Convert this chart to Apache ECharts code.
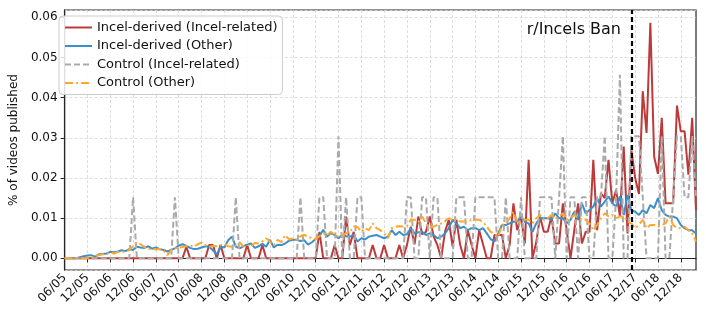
<!DOCTYPE html>
<html>
<head>
<meta charset="utf-8">
<script src="https://cdn.jsdelivr.net/npm/echarts@6/dist/echarts.min.js"></script>
<style>
html,body{margin:0;padding:0;background:#fff;}
#chart{width:706px;height:314px;}
</style>
</head>
<body>
<div id="chart"></div>
<script>
// Monthly series, Jun 2005 .. Apr 2019
const startYear = 2005, startMonth = 6;
const banLabel = '11/17';
const banText = 'r/Incels Ban';
const seriesNames = ['Incel-derived (Incel-related)', 'Incel-derived (Other)', 'Control (Incel-related)', 'Control (Other)'];
const yTicks = [0, 0.01, 0.02, 0.03, 0.04, 0.05, 0.06];

const derivedIncel = [
  0,0,0,0,0,0,0,0,0,0,0,0,
  0,0,0,0,0,0,0,0,0,0,0,0,
  0,0,0,0,0,0,0,0,0.0029,0,0,0,
  0,0,0.0033,0.0033,0,0.0033,0,0,0,0,0,0,
  0.0033,0,0,0,0.0033,0,0,0,0,0,0,0,
  0,0,0,0,0,0,0,0.0066,0,0,0,0.0033,
  0,0,0.0104,0.0033,0.0066,0,0,0,0,0.0033,0,0,
  0.0033,0,0,0,0.0033,0,0.0033,0.0079,0.0035,0.0104,0.0060,0.0066,
  0.0104,0.0055,0.0033,0,0.0066,0.0096,0.0030,0.0096,0.0033,0,0.0070,0.0033,
  0,0.0070,0.0035,0,0,0.0058,0.0058,0.0058,0,0.0033,0.0137,0.0070,
  0.0104,0.0037,0.0245,0,0.0040,0.0104,0.0066,0.0066,0.0104,0.0037,0.0037,0.0137,
  0.0070,0,0.0070,0.0137,0.0037,0.0066,0.0066,0.0245,0.0070,0.0162,0.0150,0.0245,
  0.0137,0.0170,0.0104,0.0278,0.0062,0.0270,0.0200,0.0160,0.0416,0.0312,0.0586,0.0253,
  0.0210,0.0350,0.0137,0.0137,0.0137,0.0380,0.0316,0.0316,0.0208,0.0350,0.0120
];
const derivedOther = [
  0,0,0,0,0.0003,0.0005,0.0007,0.0008,0.0004,0.0010,0.0011,0.0012,
  0.0016,0.0015,0.0017,0.0020,0.0018,0.0023,0.0021,0.0029,0.0027,0.0026,0.0030,0.0024,
  0.0027,0.0023,0.0021,0.0017,0.0021,0.0025,0.0032,0.0035,0.0031,0.0026,0.0023,0.0024,
  0.0027,0.0030,0.0029,0.0020,0.0010,0.0029,0.0027,0.0045,0.0054,0.0029,0.0025,0.0030,
  0.0034,0.0037,0.0026,0.0030,0.0036,0.0029,0.0046,0.0027,0.0034,0.0033,0.0037,0.0044,
  0.0046,0.0046,0.0043,0.0045,0.0034,0.0040,0.0048,0.0055,0.0071,0.0054,0.0063,0.0058,
  0.0050,0.0058,0.0055,0.0054,0.0058,0.0042,0.0050,0.0047,0.0054,0.0056,0.0058,0.0054,
  0.0050,0.0054,0.0070,0.0058,0.0066,0.0058,0.0060,0.0075,0.0062,0.0065,0.0066,0.0058,
  0.0062,0.0058,0.0050,0.0054,0.0062,0.0075,0.0096,0.0087,0.0075,0.0079,0.0070,0.0075,
  0.0075,0.0070,0.0075,0.0062,0.0048,0.0042,0.0062,0.0083,0.0083,0.0087,0.0091,0.0092,
  0.0104,0.0091,0.0087,0.0066,0.0087,0.0100,0.0100,0.0100,0.0096,0.0112,0.0100,0.0100,
  0.0087,0.0096,0.0116,0.0096,0.0137,0.0112,0.0120,0.0129,0.0150,0.0129,0.0141,0.0154,
  0.0137,0.0129,0.0154,0.0108,0.0158,0.0120,0.0116,0.0108,0.0120,0.0112,0.0133,0.0125,
  0.0150,0.0120,0.0108,0.0104,0.0104,0.0100,0.0083,0.0075,0.0070,0.0070,0.0062
];
const controlIncel = [
  0,0,0,0,0,0,0,0,0,0,0,0,
  0,0,0,0,0,0,0.0152,0,0,0,0,0,
  0,0,0,0,0,0.0152,0,0,0,0,0,0,
  0,0,0,0,0,0,0,0,0,0.0152,0,0,
  0,0,0,0,0,0,0,0,0,0,0,0,
  0,0,0.0152,0,0,0,0,0.0152,0.0152,0,0,0,
  0.0304,0,0.0152,0,0,0.0152,0.0152,0,0,0,0,0,
  0,0,0,0,0,0,0.0152,0.0152,0,0,0.0152,0.0152,
  0,0.0152,0.0152,0,0,0,0,0.0152,0.0152,0.0152,0,0,
  0.0152,0.0152,0.0152,0.0152,0.0152,0.0152,0,0,0.0152,0,0,0,
  0.0152,0,0,0,0,0.0152,0.0152,0.0152,0.0152,0,0.0152,0.0304,
  0,0.0152,0.0152,0,0.0152,0.0152,0,0,0.0152,0.0152,0.0304,0,
  0,0.0152,0.0457,0,0,0.0304,0.0304,0.0304,0.0152,0,0,0,
  0,0.0304,0,0,0.0152,0.0304,0.0304,0.0152,0.0152,0.0304,0.0152
];
const controlOther = [
  0,0,0,0,0,0,0,0.0003,0.0005,0.0008,0.0010,0.0011,
  0.0014,0.0012,0.0016,0.0015,0.0018,0.0020,0.0030,0.0040,0.0035,0.0028,0.0022,0.0025,
  0.0022,0.0023,0.0020,0.0008,0.0020,0.0025,0.0027,0.0028,0.0030,0.0032,0.0029,0.0035,
  0.0039,0.0033,0.0029,0.0031,0.0030,0.0033,0.0036,0.0030,0.0029,0.0032,0.0040,0.0029,
  0.0033,0.0030,0.0038,0.0037,0.0042,0.0050,0.0042,0.0033,0.0046,0.0040,0.0058,0.0047,
  0.0050,0.0046,0.0055,0.0058,0.0054,0.0050,0.0048,0.0055,0.0062,0.0058,0.0066,0.0058,
  0.0054,0.0058,0.0062,0.0066,0.0079,0.0078,0.0066,0.0075,0.0070,0.0087,0.0075,0.0070,
  0.0062,0.0050,0.0075,0.0079,0.0080,0.0079,0.0080,0.0096,0.0096,0.0090,0.0104,0.0087,
  0.0075,0.0079,0.0083,0.0087,0.0092,0.0100,0.0096,0.0096,0.0092,0.0092,0.0092,0.0096,
  0.0096,0.0096,0.0090,0.0079,0.0066,0.0062,0.0054,0.0083,0.0087,0.0100,0.0116,0.0087,
  0.0091,0.0096,0.0096,0.0087,0.0100,0.0108,0.0096,0.0100,0.0108,0.0100,0.0104,0.0112,
  0.0096,0.0100,0.0108,0.0100,0.0096,0.0096,0.0087,0.0070,0.0083,0.0100,0.0112,0.0104,
  0.0108,0.0100,0.0104,0.0104,0.0091,0.0087,0.0075,0.0083,0.0096,0.0075,0.0083,0.0083,
  0.0079,0.0083,0.0087,0.0104,0.0083,0.0075,0.0075,0.0079,0.0070,0.0062,0.0042
];

const categories = [];
for (let k = 0; k < derivedIncel.length; k++) {
  const mm = (startMonth - 1 + k) % 12 + 1;
  const yy = (startYear + Math.floor((startMonth - 1 + k) / 12)) % 100;
  categories.push(String(mm).padStart(2, '0') + '/' + String(yy).padStart(2, '0'));
}

const FONT = 'DejaVu Sans';
const chart = echarts.init(document.getElementById('chart'), null, {renderer: 'canvas'});
const option = {
  animation: false,
  backgroundColor: '#ffffff',
  textStyle: {fontFamily: FONT},
  grid: {left: 54, right: 10, top: 10, bottom: 44, show: true, borderColor: '#262626', borderWidth: 1.2, backgroundColor: 'transparent'},
  legend: {
    orient: 'vertical', left: 59, top: 16,
    itemWidth: 27, itemHeight: 12, itemGap: 5.5,
    padding: [5, 5, 5, 5],
    borderColor: '#cccccc', borderWidth: 1, borderRadius: 4,
    backgroundColor: 'rgba(255,255,255,0.85)',
    itemStyle: {opacity: 0},
    textStyle: {fontFamily: FONT, fontSize: 13, color: '#111'},
    data: seriesNames
  },
  xAxis: {
    type: 'category', data: categories, boundaryGap: false,
    axisLine: {show: true, lineStyle: {color: '#262626', width: 1.2}},
    axisTick: {show: true, interval: 5, length: 4, lineStyle: {color: '#262626'}},
    axisLabel: {interval: 5, rotate: 45, fontSize: 12, color: '#111', margin: 6, fontFamily: FONT},
    splitLine: {show: true, interval: 5, lineStyle: {color: '#d4d4d4', type: [3, 2], width: 0.8}}
  },
  yAxis: {
    type: 'value', min: -0.0029, max: 0.0618, splitNumber: 6,
    name: '% of videos published', nameLocation: 'middle', nameGap: 38,
    nameTextStyle: {fontFamily: FONT, fontSize: 12, color: '#111'},
    axisLine: {show: true, lineStyle: {color: '#262626', width: 1.2}},
    axisTick: {show: true, length: 4, lineStyle: {color: '#262626'}},
    axisLabel: {fontSize: 12, color: '#111', margin: 7, showMinLabel: false, showMaxLabel: false,
      formatter: v => yTicks.some(t => Math.abs(t - v) < 1e-9) ? v.toFixed(2) : ''},
    splitLine: {show: true, lineStyle: {color: '#d4d4d4', type: [3, 2], width: 0.8}}
  },
  series: [
    {name: seriesNames[0], type: 'line', data: derivedIncel, symbol: 'none', z: 2,
     lineStyle: {color: '#bd3a3a', width: 2}, itemStyle: {color: '#bd3a3a'}},
    {name: seriesNames[1], type: 'line', data: derivedOther, symbol: 'none', z: 3,
     lineStyle: {color: '#3d8fca', width: 2}, itemStyle: {color: '#3d8fca'}},
    {name: seriesNames[2], type: 'line', data: controlIncel, symbol: 'none', z: 4,
     lineStyle: {color: '#aaaaaa', width: 2, type: [6, 3]}, itemStyle: {color: '#aaaaaa'}},
    {name: seriesNames[3], type: 'line', data: controlOther, symbol: 'none', z: 5,
     lineStyle: {color: '#ffa82c', width: 2, type: [8, 3, 2, 3]}, itemStyle: {color: '#ffa82c'},
     markLine: {silent: true, symbol: 'none', label: {show: false}, z: 10,
       lineStyle: {color: '#000', width: 2.2, type: [5, 3]},
       data: [{xAxis: banLabel}]}}
  ],
  graphic: [{
    type: 'text', right: 85, top: 22, z: 20,
    style: {text: banText, fontFamily: FONT, fontSize: 16, fill: '#111'}
  }]
};
chart.setOption(option);
</script>
</body>
</html>
